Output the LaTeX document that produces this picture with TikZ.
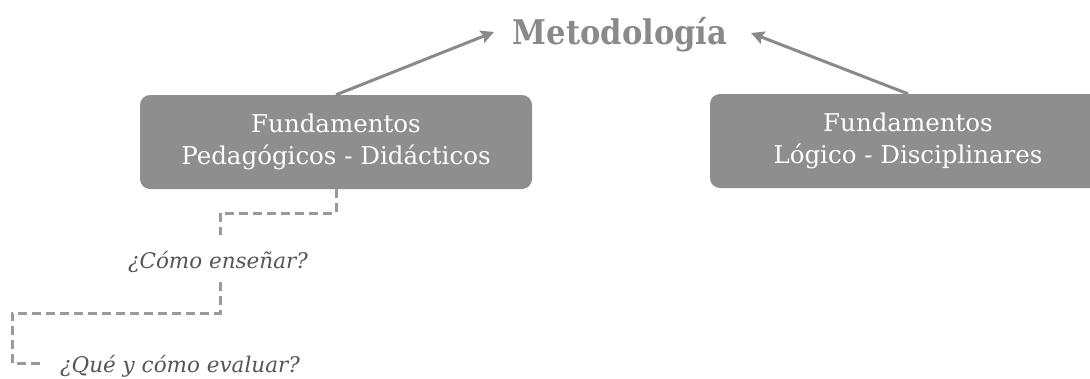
\documentclass[tikz,border=0pt]{standalone}
\usepackage{fontspec}
\setmainfont{DejaVu Serif}
\newfontfamily\titlefont{DejaVu Serif Condensed}
\usetikzlibrary{arrows.meta}
\definecolor{boxgray}{HTML}{8E8E8E}
\definecolor{linegray}{HTML}{8A8A8A}
\definecolor{dashgray}{HTML}{9A9A9A}
\definecolor{qgray}{HTML}{555555}
\tikzset{
  fbox/.style={draw=none, fill=boxgray, rounded corners=10pt, minimum width=392pt, minimum height=94pt,
    text=white, align=center, font=\fontsize{24.5}{32}\selectfont, inner sep=0pt},
  uparrow/.style={draw=linegray, line width=3pt, -{Stealth[length=13pt,width=13pt,inset=2pt]}},
  dashline/.style={draw=dashgray, line width=3pt, dash pattern=on 9pt off 5pt},
  qtext/.style={text=qgray, font=\fontsize{21.5}{26}\selectfont\itshape, inner sep=0pt},
}
\begin{document}
\begin{tikzpicture}[x=1pt,y=-1pt]
\useasboundingbox (0,0) rectangle (1090,378);
\clip (0,0) rectangle (1090,378);
\node[anchor=base, inner sep=0pt, text=linegray, font=\titlefont\fontsize{34}{38}\selectfont\bfseries] (meta) at (620,44) {Metodología};
\node[fbox] (lbox) at (336,142) {Fundamentos\\Pedagógicos - Didácticos};
\node[fbox, minimum width=396pt] (rbox) at (908,141) {Fundamentos\\Lógico - Disciplinares};
\coordinate (mL) at (494,32);
\coordinate (mR) at (751,33);
\draw[uparrow] (lbox.north) -- (mL);
\draw[uparrow] (rbox.north) -- (mR);
\node[qtext, anchor=base] (q1) at (218,268) {¿Cómo enseñar?};
\node[qtext, anchor=base west] (q2) at (60,372) {¿Qué y cómo evaluar?};
\coordinate (a1) at (336,213);
\coordinate (a2) at (220,213);
\coordinate (a3) at (220,235);
\coordinate (b1) at (220,282);
\coordinate (b2) at (220,313);
\coordinate (b3) at (12,313);
\coordinate (b4) at (12,363);
\coordinate (b5) at (43,363);
\draw[dashline] (lbox.south) -- (a1) -- (a2) -- (a3);
\draw[dashline] (b1) -- (b2) -- (b3) -- (b4) -- (b5);
\end{tikzpicture}
\end{document}
